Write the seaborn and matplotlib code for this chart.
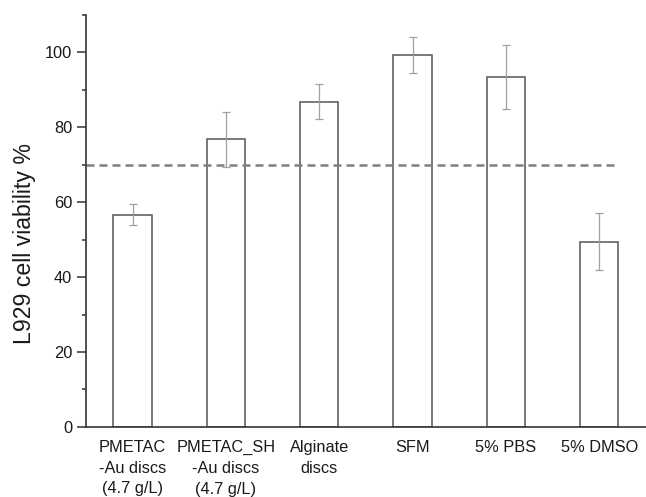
import pandas as pd
import matplotlib
matplotlib.use("Agg")
import matplotlib.pyplot as plt
from matplotlib.ticker import MultipleLocator
import seaborn as sns

labels = ["PMETAC\n-Au discs\n(4.7 g/L)", "PMETAC_SH\n-Au discs\n(4.7 g/L)",
          "Alginate\ndiscs", "SFM", "5% PBS", "5% DMSO"]
viability = [56.7, 76.8, 86.8, 99.3, 93.5, 49.5]
errors = [2.7, 7.3, 4.7, 4.9, 8.5, 7.6]
threshold = 70

df = pd.DataFrame({"group": labels, "viability": viability, "err": errors})

sns.set_style("ticks")
plt.rcParams["font.family"] = ["Liberation Sans", "DejaVu Sans"]

fig = plt.figure(figsize=(6.46, 4.97), dpi=100)
ax = fig.add_axes([0.133, 0.141, 0.867, 0.829])

sns.barplot(data=df, x="group", y="viability", color="white", edgecolor="#555555",
            linewidth=1.1, width=0.41, errorbar=None, ax=ax)
ax.errorbar(range(len(df)), df["viability"], yerr=df["err"], fmt="none",
            ecolor="#a0a0a0", elinewidth=0.9, capsize=2.7, capthick=0.9)
ax.plot([-0.5, 5.2], [threshold, threshold], ls=(0, (3.2, 2)), color="#808080", lw=1.8)

ax.set_xlim(-0.5, 5.5)
ax.set_ylim(0, 110)
ax.yaxis.set_major_locator(MultipleLocator(20))
ax.yaxis.set_minor_locator(MultipleLocator(10))
ax.tick_params(axis="y", which="major", length=6.5, width=1.1, labelsize=11.8,
               color="#333333", labelcolor="#1a1a1a")
ax.tick_params(axis="y", which="minor", length=3.2, width=1.1, color="#333333")
ax.tick_params(axis="x", length=0, labelsize=11.8, pad=9.5, labelcolor="#1a1a1a")
for t in ax.get_xticklabels():
    t.set_linespacing(1.47)
    t.set_verticalalignment("top")
ax.set_xlabel("")
ax.set_ylabel("L929 cell viability %", fontsize=16.7, color="#1a1a1a")
ax.yaxis.set_label_coords(-0.089, 0.444)
sns.despine(ax=ax)
for s in ["left", "bottom"]:
    ax.spines[s].set_color("#333333")
    ax.spines[s].set_linewidth(1.2)

fig.savefig("out.png", dpi=100)
